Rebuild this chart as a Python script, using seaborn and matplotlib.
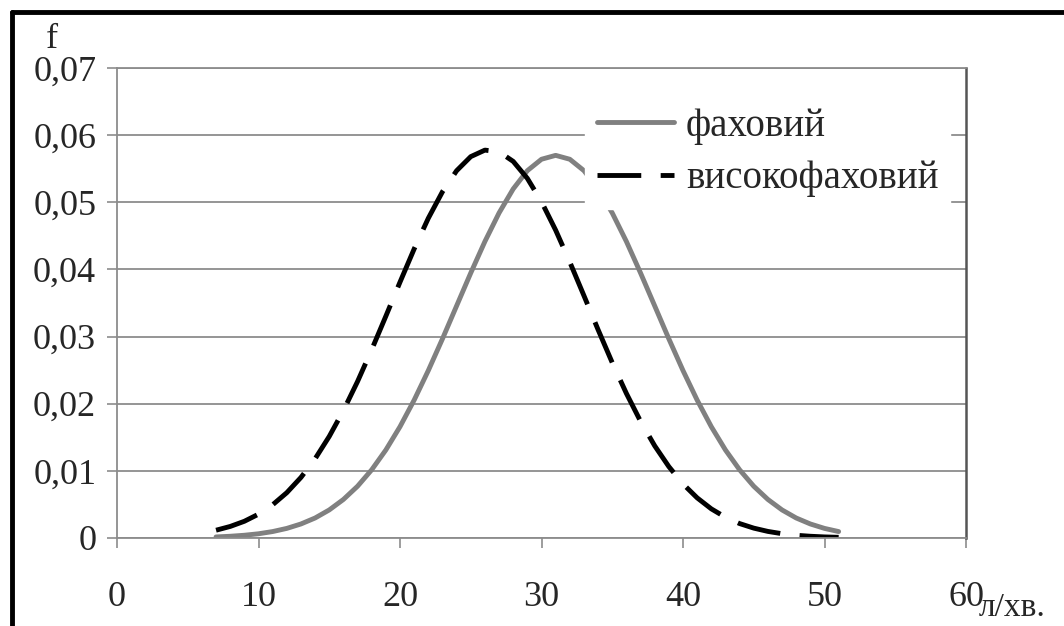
# Дані кривих щільності
# ==============================================================================
import pandas as pd
import numpy as np
import matplotlib.pyplot as plt
from matplotlib.lines import Line2D
import seaborn as sns

x_vals = list(range(7, 52))

f_fakhovyi = [0.00016, 0.00026, 0.00041, 0.00063, 0.00096, 0.00143, 0.00209,
              0.00298, 0.00418, 0.00574, 0.00771, 0.01016, 0.01311, 0.01658,
              0.02054, 0.02494, 0.02966, 0.03457, 0.03947, 0.04416, 0.04841,
              0.05199, 0.05471, 0.05641, 0.05699, 0.05641, 0.05471, 0.05199,
              0.04841, 0.04416, 0.03947, 0.03457, 0.02966, 0.02494, 0.02054,
              0.01658, 0.01311, 0.01016, 0.00771, 0.00574, 0.00418, 0.00298,
              0.00209, 0.00143, 0.00096]

f_vysoko = [0.00116, 0.00172, 0.00249, 0.00355, 0.00495, 0.00675, 0.00902,
            0.01180, 0.01513, 0.01898, 0.02331, 0.02805, 0.03304, 0.03811,
            0.04305, 0.04762, 0.05157, 0.05470, 0.05680, 0.05777, 0.05752,
            0.05609, 0.05356, 0.05008, 0.04585, 0.04110, 0.03609, 0.03102,
            0.02611, 0.02153, 0.01738, 0.01373, 0.01063, 0.00805, 0.00598,
            0.00434, 0.00309, 0.00215, 0.00147, 0.00098, 0.00064, 0.00041,
            0.00026, 0.00016, 0.00010]

series_names = ["фаховий", "високофаховий"]
x_ticks = [0, 10, 20, 30, 40, 50, 60]
y_ticks = [0, 0.01, 0.02, 0.03, 0.04, 0.05, 0.06, 0.07]
y_tick_labels = ["0", "0,01", "0,02", "0,03", "0,04", "0,05", "0,06", "0,07"]

datos = pd.DataFrame({
    "x": x_vals * 2,
    "f": f_fakhovyi + f_vysoko,
    "group": [series_names[0]] * len(x_vals) + [series_names[1]] * len(x_vals),
})

# Estilo
# ==============================================================================
sns.set_theme(style="white")
plt.rcParams['font.family'] = ['Liberation Serif', 'DejaVu Serif']
plt.rcParams['axes.unicode_minus'] = False

grid_color = "#8c8c8c"
dash_pat = (9, 4)
lw = 3.5

fig = plt.figure(figsize=(10.64, 6.26), dpi=100)
ax = fig.add_axes([117 / 1064, 1 - 538 / 626, (966 - 117) / 1064, (538 - 68) / 626])

sns.lineplot(data=datos, x="x", y="f", hue="group", style="group",
             palette={series_names[0]: "#808080", series_names[1]: "black"},
             dashes={series_names[0]: "", series_names[1]: dash_pat},
             linewidth=lw, legend=False, ax=ax)

ax.set_xlim(0, 60)
ax.set_ylim(0, 0.07)
ax.set_xticks(x_ticks)
ax.set_xticklabels([str(t) for t in x_ticks])
ax.set_yticks(y_ticks)
ax.set_yticklabels(y_tick_labels)
ax.set_xlabel("")
ax.set_ylabel("")

ax.yaxis.grid(True, color=grid_color, linewidth=1.3)
ax.set_axisbelow(True)
for side in ["left", "bottom", "top"]:
    ax.spines[side].set_color(grid_color)
    ax.spines[side].set_linewidth(1.3)
ax.spines["right"].set_color("#555555")
ax.spines["right"].set_linewidth(1.8)

ax.tick_params(axis="y", direction="out", length=7, width=1.2, color=grid_color,
               pad=8, labelsize=26, left=True)
ax.tick_params(axis="x", direction="out", length=7, width=1.2, color=grid_color,
               pad=24, labelsize=26, bottom=True)

# Leyenda
handles = [Line2D([], [], color="#808080", lw=lw),
           Line2D([], [], color="black", lw=lw, dashes=dash_pat)]
leg = ax.legend(handles, series_names, loc="upper left",
                bbox_to_anchor=((585 - 117) / 849, (538 - 96) / 470),
                frameon=True, fancybox=False, framealpha=1, edgecolor="white",
                fontsize=28, handlelength=2.0, handletextpad=0.3,
                labelspacing=0.4, borderpad=0.3, borderaxespad=0)

# Etiquetas de ejes
fig.text(52 / 1064, 1 - 40 / 626, "f", fontsize=26, ha="center", va="center")
fig.text(979 / 1064, 1 - 616 / 626, "л/хв.", fontsize=24, ha="left", va="baseline")

# Marco exterior
fig.add_artist(Line2D([12 / 1064, 12 / 1064], [0, 1 - 12 / 626], color="black",
                      lw=3.5, transform=fig.transFigure))
fig.add_artist(Line2D([12 / 1064, 1], [1 - 12 / 626, 1 - 12 / 626], color="black",
                      lw=3.5, transform=fig.transFigure))

fig.savefig("out.png", dpi=100)
